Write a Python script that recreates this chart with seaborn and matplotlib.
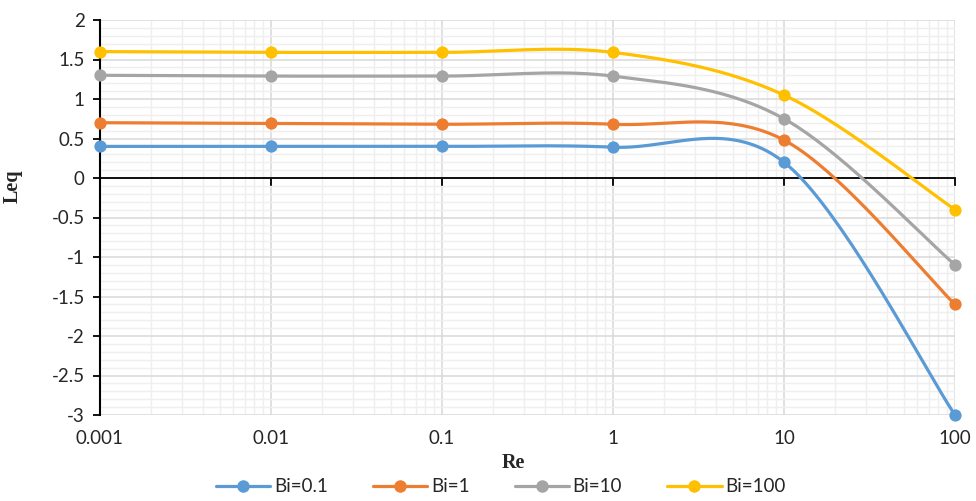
import numpy as np
import matplotlib
matplotlib.use("Agg")
import matplotlib.pyplot as plt
from matplotlib.lines import Line2D
from matplotlib.ticker import LogLocator, MultipleLocator, FixedLocator, FixedFormatter
import seaborn as sns

# Data
re_vals = [0.001, 0.01, 0.1, 1, 10, 100]
re_labels = ["0.001", "0.01", "0.1", "1", "10", "100"]
leq_bi_01 = [0.40, 0.40, 0.40, 0.39, 0.20, -3.00]
leq_bi_1 = [0.70, 0.69, 0.68, 0.68, 0.48, -1.60]
leq_bi_10 = [1.30, 1.29, 1.29, 1.29, 0.75, -1.10]
leq_bi_100 = [1.60, 1.59, 1.59, 1.59, 1.05, -0.40]
series_names = ["Bi=0.1", "Bi=1", "Bi=10", "Bi=100"]
series_colors = ["#5B9BD5", "#ED7D31", "#A5A5A5", "#FFC000"]

sns.set_style("white")
plt.rcParams["font.family"] = ["Lato", "DejaVu Sans"]

fig = plt.figure(figsize=(9.76, 5.01), dpi=100)
ax = fig.add_axes([100 / 976, 1 - 415 / 501, 855 / 976, 395 / 501])
ax.set_xscale("log")
ax.set_xlim(0.001, 100)
ax.set_ylim(-3, 2)


def smooth_curve(ax, xs, ys, n=40):
    # Excel-style smoothed line: cubic Bezier through the points, built in screen space
    pts = ax.transData.transform(np.column_stack([xs, ys]))
    padded = np.vstack([pts[0], pts, pts[-1]])
    t = np.linspace(0, 1, n)[:, None]
    out = []
    for i in range(len(pts) - 1):
        p0, p1, p2, p3 = padded[i], padded[i + 1], padded[i + 2], padded[i + 3]
        c1 = p1 + (p2 - p0) / 6
        c2 = p2 - (p3 - p1) / 6
        seg = (1 - t) ** 3 * p1 + 3 * (1 - t) ** 2 * t * c1 + 3 * (1 - t) * t ** 2 * c2 + t ** 3 * p2
        out.append(seg if i == 0 else seg[1:])
    return ax.transData.inverted().transform(np.vstack(out))


all_series = [leq_bi_01, leq_bi_1, leq_bi_10, leq_bi_100]
handles = []
for name, vals, col in zip(series_names, all_series, series_colors):
    curve = smooth_curve(ax, re_vals, vals)
    sns.lineplot(x=curve[:, 0], y=curve[:, 1], sort=False, estimator=None,
                 color=col, linewidth=2.3, ax=ax, legend=False, zorder=3)
    sns.scatterplot(x=re_vals, y=vals, color=col, s=78, linewidth=0,
                    ax=ax, legend=False, zorder=4, clip_on=False)
    handles.append(Line2D([], [], color=col, linewidth=2.3, marker="o",
                          markersize=9, markeredgewidth=0, label=name))

# gridlines
ax.xaxis.set_major_locator(FixedLocator(re_vals))
ax.xaxis.set_major_formatter(FixedFormatter(re_labels))
ax.xaxis.set_minor_locator(LogLocator(base=10, subs=np.arange(2, 10)))
ax.yaxis.set_major_locator(MultipleLocator(0.5))
ax.yaxis.set_minor_locator(MultipleLocator(0.1))
ax.grid(which="major", color="#D9D9D9", linewidth=1.1)
ax.grid(which="minor", color="#EFEFEF", linewidth=1.0)
ax.set_axisbelow(True)

# y axis
ax.spines["left"].set_color("black")
ax.spines["left"].set_linewidth(1.5)
ax.spines["right"].set_visible(False)
ax.spines["bottom"].set_visible(False)
# zero line with ticks, labels stay at the bottom
ax.spines["top"].set_position(("data", 0))
ax.spines["top"].set_color("black")
ax.spines["top"].set_linewidth(1.3)
ax.spines["top"].set_zorder(2)

ax.xaxis.set_tick_params(which="major", top=True, bottom=False, labelbottom=True,
                         labeltop=False, direction="in", length=6, width=1.3,
                         pad=11, labelsize=13.5, color="black")
ax.xaxis.set_tick_params(which="minor", top=False, bottom=False)
ax.yaxis.set_tick_params(which="major", left=True, direction="out", length=5,
                         width=1.3, pad=6, labelsize=13.5, color="black")
ax.yaxis.set_tick_params(which="minor", left=False)
ax.set_yticks(np.arange(-3, 2.01, 0.5))
ax.set_yticklabels([f"{v:g}" for v in np.arange(-3, 2.01, 0.5)])

ax.set_xlabel("Re", fontsize=14.5, fontweight="bold", family="Liberation Serif")
ax.set_ylabel("Leq", fontsize=14.5, fontweight="bold", family="Liberation Serif")
ax.xaxis.set_label_coords(0.483, -0.095)
ax.yaxis.set_label_coords(-0.091, 0.58)

fig.legend(handles=handles, loc="lower center", bbox_to_anchor=(0.513, -0.022),
           ncol=4, frameon=False, fontsize=13.5, handlelength=2.9,
           handletextpad=0.2, columnspacing=2.4)

fig.savefig("out.png", dpi=100)
